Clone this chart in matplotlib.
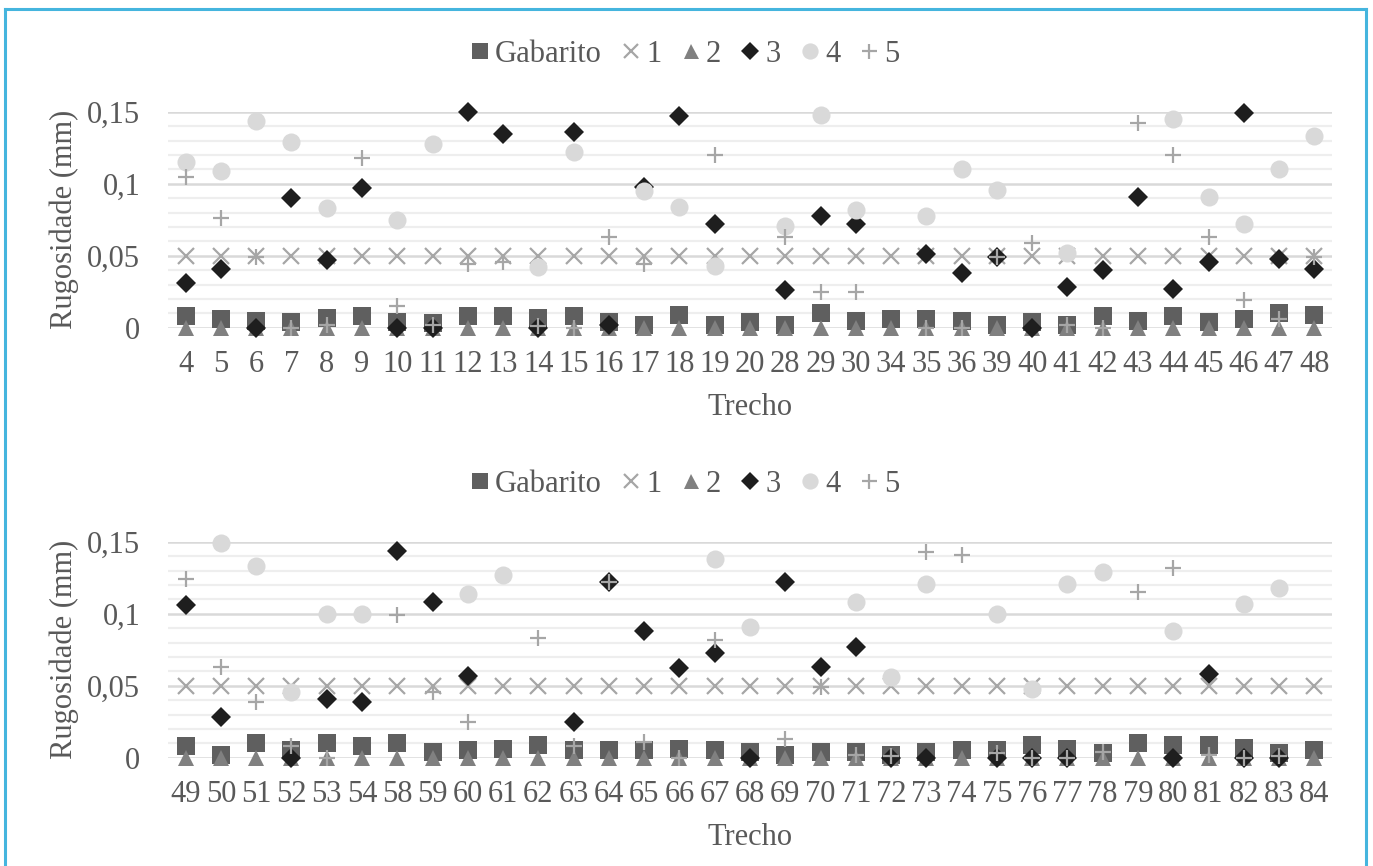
import numpy as np
import matplotlib
matplotlib.use("Agg")
import matplotlib.pyplot as plt
from matplotlib.lines import Line2D

nan = np.nan

# ── Panel 1 data ──────────────────────────────────────────────────────────────
trecho_a = ["4", "5", "6", "7", "8", "9", "10", "11", "12", "13", "14", "15", "16",
            "17", "18", "19", "20", "28", "29", "30", "34", "35", "36", "39", "40",
            "41", "42", "43", "44", "45", "46", "47", "48"]
gab_a = [0.008, 0.006, 0.005, 0.004, 0.007, 0.008, 0.004, 0.003, 0.008, 0.008, 0.007,
         0.008, 0.004, 0.002, 0.009, 0.002, 0.004, 0.002, 0.010, 0.005, 0.006, 0.006,
         0.005, 0.002, 0.004, 0.002, 0.008, 0.005, 0.008, 0.004, 0.006, 0.010, 0.009]
s1_a = [0.05] * 33
s2_a = [0.0] * 33
s3_a = [0.031, 0.041, 0.0, 0.090, 0.047, 0.097, 0.0, 0.0, 0.150, 0.135, 0.0, 0.136,
        0.002, 0.098, 0.147, 0.072, nan, 0.026, 0.078, 0.072, nan, 0.051, 0.038, 0.049,
        0.0, 0.028, 0.040, 0.091, 0.027, 0.046, 0.149, 0.048, 0.041]
s4_a = [0.115, 0.109, 0.144, 0.129, 0.083, nan, 0.075, 0.128, nan, nan, 0.042, 0.122,
        nan, 0.095, 0.084, 0.043, nan, 0.071, 0.148, 0.082, nan, 0.078, 0.110, 0.096,
        nan, 0.052, nan, nan, 0.145, 0.091, 0.072, 0.110, 0.133]
s5_a = [0.105, 0.076, 0.049, 0.0, 0.002, 0.118, 0.015, 0.002, 0.044, 0.046, 0.001, 0.0,
        0.063, 0.044, nan, 0.120, nan, 0.063, 0.025, 0.025, nan, 0.0, 0.0, 0.049, 0.059,
        0.002, 0.0, 0.142, 0.120, 0.063, 0.019, 0.006, 0.049]

# ── Panel 2 data ──────────────────────────────────────────────────────────────
trecho_b = ["49", "50", "51", "52", "53", "54", "58", "59", "60", "61", "62", "63", "64",
            "65", "66", "67", "68", "69", "70", "71", "72", "73", "74", "75", "76", "77",
            "78", "79", "80", "81", "82", "83", "84"]
gab_b = [0.008, 0.002, 0.010, 0.005, 0.010, 0.008, 0.010, 0.004, 0.005, 0.006, 0.009,
         0.005, 0.005, 0.005, 0.006, 0.005, 0.004, 0.002, 0.004, 0.004, 0.002, 0.004,
         0.005, 0.005, 0.009, 0.006, 0.003, 0.010, 0.009, 0.009, 0.007, 0.003, 0.005]
s1_b = [0.05] * 33
s2_b = [0.0] * 33
s3_b = [0.106, 0.028, nan, 0.0, 0.041, 0.039, 0.144, 0.108, 0.057, nan, nan, 0.025,
        0.122, 0.088, 0.062, 0.073, 0.0, 0.122, 0.063, 0.077, 0.0, 0.0, nan, 0.0, 0.0,
        0.0, nan, nan, 0.0, 0.058, 0.0, 0.0, nan]
s4_b = [nan, 0.149, 0.133, 0.046, 0.100, 0.100, nan, nan, 0.114, 0.127, nan, nan, nan,
        nan, nan, 0.138, 0.091, nan, nan, 0.108, 0.056, 0.121, nan, 0.100, 0.048, 0.121,
        0.129, nan, 0.088, nan, 0.107, 0.118, nan]
s5_b = [0.124, 0.063, 0.039, 0.008, 0.0, nan, 0.099, 0.046, 0.025, nan, 0.083, 0.008,
        0.122, 0.011, 0.0, 0.082, nan, 0.013, 0.049, 0.002, 0.001, 0.143, 0.141, 0.003,
        0.0, 0.0, 0.004, 0.115, 0.132, 0.002, 0.0, 0.001, nan]

series_names = ["Gabarito", "1", "2", "3", "4", "5"]

# marker, colour, size, edge width
STYLES = [
    ("s", "#5F5F5F", 12.5, 0),
    ("x", "#A6A6A6", 11, 1.6),
    ("^", "#808080", 12, 0),
    ("D", "#1E1E1E", 10, 0),
    ("o", "#D9D9D9", 13, 0),
    ("+", "#A6A6A6", 12, 1.6),
]

TXT = "#595959"
BORDER = "#45B5DE"

plt.rcParams["font.family"] = ["Liberation Serif", "DejaVu Serif"]

fig = plt.figure(figsize=(13.73, 8.66), dpi=100, facecolor="white")


def draw_panel(ax, labels, series):
    x = np.arange(len(labels))
    for (mk, col, ms, mew), vals in zip(STYLES, series):
        ax.plot(x, vals, linestyle="none", marker=mk, color=col, markersize=ms,
                markeredgewidth=mew, markeredgecolor=col, clip_on=False, zorder=3)

    ax.set_xlim(-0.5, len(labels) - 0.5)
    ax.set_ylim(0, 0.15)
    for yv in np.arange(0.01, 0.15, 0.01):
        if abs(yv / 0.05 - round(yv / 0.05)) > 1e-6:
            ax.axhline(yv, color="#EEEEEE", linewidth=1.6, zorder=1)
    for yv in [0.0, 0.05, 0.1, 0.15]:
        ax.axhline(yv, color="#D9D9D9", linewidth=1.8, zorder=1)

    ax.set_yticks([0, 0.05, 0.1, 0.15])
    ax.set_yticklabels(["0", "0,05", "0,1", "0,15"])
    ax.set_xticks(x)
    ax.set_xticklabels(labels)
    ax.tick_params(axis="both", length=0, labelsize=22, labelcolor=TXT)
    ax.tick_params(axis="x", pad=16)
    ax.tick_params(axis="y", pad=20)
    for sp in ax.spines.values():
        sp.set_visible(False)

    ax.set_xlabel("Trecho", fontsize=22, color=TXT, labelpad=10)
    ax.set_ylabel("Rugosidade (mm)", fontsize=22, color=TXT, labelpad=6)

    handles = [Line2D([], [], linestyle="none", marker=mk, color=col,
                      markersize=ms * 0.9, markeredgewidth=mew, markeredgecolor=col)
               for mk, col, ms, mew in STYLES]
    leg = ax.legend(handles, series_names, ncol=6, loc="lower center",
                    bbox_to_anchor=(0.443, 1.2), frameon=False, fontsize=22,
                    handletextpad=0.1, columnspacing=0.55, handlelength=0.8,
                    borderaxespad=0, borderpad=0)
    for t in leg.get_texts():
        t.set_color(TXT)


ax1 = fig.add_axes([0.1224, 0.6216, 0.8477, 0.2491])
draw_panel(ax1, trecho_a, [gab_a, s1_a, s2_a, s3_a, s4_a, s5_a])

ax2 = fig.add_axes([0.1224, 0.1251, 0.8477, 0.2491])
draw_panel(ax2, trecho_b, [gab_b, s1_b, s2_b, s3_b, s4_b, s5_b])

# ── Blue frame (left, top, right) ─────────────────────────────────────────────
W, H = 1373, 866
fx = lambda px: px / W
fy = lambda py: 1 - py / H
fig.add_artist(Line2D([fx(5), fx(5)], [fy(866), fy(9)], color=BORDER, linewidth=2.2))
fig.add_artist(Line2D([fx(5), fx(1366)], [fy(9), fy(9)], color=BORDER, linewidth=2.2))
fig.add_artist(Line2D([fx(1366), fx(1366)], [fy(9), fy(866)], color=BORDER, linewidth=2.2))

fig.savefig("out.png", dpi=100, facecolor="white")
